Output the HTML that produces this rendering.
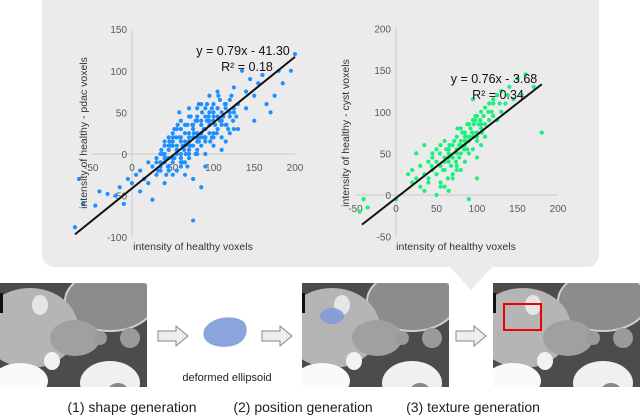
<!DOCTYPE html>
<html><head><meta charset="utf-8"><style>
html,body{margin:0;padding:0;background:#fff;width:640px;height:416px;overflow:hidden}
svg{display:block;font-family:"Liberation Sans",sans-serif}
</style></head><body>
<svg id="fig" width="640" height="416" viewBox="0 0 640 416">
<defs>
<clipPath id="ctclip"><rect x="0" y="0" width="147" height="104"/></clipPath>
<g id="ct" clip-path="url(#ctclip)">
<rect x="0" y="0" width="147" height="104" fill="#4c4c4c"/>
<ellipse cx="110" cy="18" rx="45" ry="30" fill="#8c8c8c" stroke="#cfcfcf" stroke-width="2"/>
<ellipse cx="30" cy="45" rx="48" ry="40" fill="#b5b5b5"/>
<ellipse cx="75" cy="55" rx="25" ry="18" fill="#a0a0a0"/>
<ellipse cx="40" cy="22" rx="8" ry="10" fill="#e6e6e6"/>
<ellipse cx="52" cy="78" rx="8" ry="9" fill="#f2f2f2"/>
<ellipse cx="130" cy="55" rx="10" ry="10" fill="#9a9a9a"/>
<ellipse cx="100" cy="55" rx="7" ry="7" fill="#9a9a9a"/>
<ellipse cx="20" cy="98" rx="28" ry="18" fill="#fafafa"/>
<ellipse cx="110" cy="100" rx="30" ry="22" fill="#f0f0f0"/>
<ellipse cx="118" cy="108" rx="10" ry="8" fill="#888"/>
<rect x="0" y="10" width="3" height="20" fill="#111"/>
</g>
</defs>

<g>
<rect x="42" y="-12" width="557" height="279" rx="12" fill="#ebebeb"/>
<polygon points="449,266 493,266 471,290" fill="#ebebeb"/>
</g>
<g id="chartL"></g>
<g id="chartR"></g>

<g transform="translate(0,283)"><use href="#ct"/></g>
<g transform="translate(302,283)"><use href="#ct"/>
<ellipse cx="30" cy="33" rx="12" ry="8" fill="#7f9bd8" opacity="0.9"/></g>
<g transform="translate(493,283)"><use href="#ct"/>
<rect x="11" y="21" width="37" height="26" fill="none" stroke="#e00" stroke-width="2"/></g>

<g><polygon points="158,331 176,331 176,326 188,336 176,346 176,341 158,341" fill="#eee" stroke="#888"/></g>
<g><polygon points="262,331 280,331 280,326 292,336 280,346 280,341 262,341" fill="#eee" stroke="#888"/></g>
<g><polygon points="456,331 474,331 474,326 486,336 474,346 474,341 456,341" fill="#eee" stroke="#888"/></g>
<path d="M204,330 C210,316 235,314 244,322 C250,330 246,343 232,346 C218,349 200,344 204,330Z" fill="#8aa4dc"/>
<text x="227" y="381" font-size="11" text-anchor="middle" fill="#222">deformed ellipsoid</text>
<text x="132" y="412" font-size="14" text-anchor="middle" fill="#222">(1) shape generation</text>
<text x="303" y="412" font-size="14" text-anchor="middle" fill="#222">(2) position generation</text>
<text x="473" y="412" font-size="14" text-anchor="middle" fill="#222">(3) texture generation</text>
</svg>
<script>
const pdacX=[-70,-65,-60,-45,-40,-30,-20,-15,-10,-5,0,5,10,10,15,20,20,25,25,30,30,35,35,40,40,40,45,45,45,50,50,50,55,55,55,60,60,60,60,65,65,65,70,70,70,70,75,75,75,80,80,80,80,85,85,85,90,90,90,90,95,95,95,100,100,100,105,105,110,110,110,115,115,120,120,125,125,130,130,135,140,140,145,150,150,155,160,165,170,175,180,185,195,200,60,75,90,105,85,70,40,45,50,55,60,65,70,75,80,85,90,95,100,105,110,50,60,70,80,90,100,110,65,75,85,95,105,55,45,35,120,125,115,100,90,80,70,60,50,40,
30,35,40,45,50,55,60,65,70,75,80,85,90,95,100,105,110,115,120,125,32,38,42,48,52,58,62,68,72,78,82,88,92,98,102,108,112,118,122,128,36,44,54,64,74,84,94,104,114,124,46,56,66,76,86,96,106,116,58,68,78,88,98,108,62,72,82,92,52,42];
const pdacY=[-88,-30,-60,-62,-45,-48,-50,-40,-60,-30,-35,-25,-45,-20,-30,-10,-35,-15,-55,-5,-25,0,-20,10,-10,-35,5,20,-15,15,-5,25,10,-20,30,20,0,-10,40,15,35,-25,25,5,45,-5,30,10,-30,20,40,0,55,35,10,60,30,45,15,-15,50,25,70,40,10,60,30,75,50,20,5,55,35,65,25,50,80,60,30,100,75,55,90,70,40,85,95,60,50,70,100,85,100,120,-5,-80,20,45,-40,55,-5,10,-10,5,-15,10,0,20,5,25,20,35,25,45,35,-25,-5,10,15,0,50,40,-10,35,25,40,55,0,-20,-10,45,30,15,20,55,45,15,30,20,15,
-10,-15,0,-5,10,5,15,25,20,30,25,40,30,50,45,55,40,60,50,55,-20,0,-25,10,-5,20,-10,35,10,40,15,30,60,20,35,65,45,30,70,45,5,-15,20,5,35,20,45,25,60,40,15,35,0,25,50,15,70,35,50,-15,0,20,55,40,10,45,60,40,30,-5];
const cystX=[-45,-40,-35,0,15,20,20,25,25,30,30,35,35,40,40,45,45,50,50,50,55,55,55,60,60,60,65,65,65,70,70,70,75,75,75,80,80,80,85,85,85,90,90,90,95,95,95,100,100,100,105,105,105,110,110,115,115,120,120,125,125,130,130,135,140,145,150,155,160,170,180,60,75,90,100,110,50,40,80,95,45,65,85,105,120,70,55,35,90,100,
60,65,70,75,80,85,90,95,100,105,62,68,72,78,82,88,92,98,102,108,64,74,84,94,104,114,44,54,66,76,86,96,106,118,128,138,58,78,88,98];
const cystY=[-20,-5,-15,-5,25,15,30,20,50,10,35,25,60,20,40,30,50,25,55,40,35,60,15,45,30,65,40,55,5,60,45,25,70,50,30,65,50,80,75,60,40,85,65,50,90,70,55,95,75,65,100,80,60,105,85,110,90,115,95,120,90,125,100,110,130,115,140,120,145,130,75,10,35,-5,20,70,0,15,30,115,45,45,70,80,110,20,10,5,85,45,
40,50,45,55,60,65,70,75,70,85,55,35,65,60,75,55,80,90,85,95,20,40,55,75,90,100,35,50,60,80,70,85,75,100,110,120,30,45,85,95];
const pdacXTicks=[-50,0,50,100,150,200];
const pdacYTicks=[-100,-50,0,50,100,150];
const cystXTicks=[-50,0,50,100,150,200];
const cystYTicks=[-50,0,50,100,150,200];
const pdacFit=[0.79,-41.30];
const cystFit=[0.76,-3.68];
const NS='http://www.w3.org/2000/svg';
function mk(parent,tag,attrs,txt){const e=document.createElementNS(NS,tag);for(const k in attrs)e.setAttribute(k,attrs[k]);if(txt!==undefined)e.textContent=txt;parent.appendChild(e);return e;}
function drawChart(g,cfg){
  const xs=v=>cfg.x0+v*cfg.kx, ys=v=>cfg.y0-v*cfg.ky;
  const yT=cfg.yTicks, xT=cfg.xTicks;
  const ax=mk(g,'line',{x1:xs(0),x2:xs(0),y1:ys(yT[yT.length-1]),y2:ys(yT[0]),stroke:'#c8c8c8'});
  
  
  const bx=mk(g,'line',{x1:xs(xT[0]),x2:xs(xT[xT.length-1]),y1:ys(0),y2:ys(0),stroke:'#c8c8c8'});
  
  
  yT.forEach(v=>{const t=mk(g,'text',{x:xs(0)-5,y:ys(v)+4,'font-size':10,'text-anchor':'end',fill:'#595959'},v);
    
    });
  xT.forEach(v=>{const t=mk(g,'text',{x:xs(v),y:ys(0)+17,'font-size':10,'text-anchor':'middle',fill:'#595959'},v);
    
    });
  cfg.px.forEach((xv,i)=>{const c=mk(g,'circle',{cx:xs(xv),cy:ys(cfg.py[i]),r:2.1,fill:cfg.color});
    
    });
  const l=mk(g,'line',{x1:xs(cfg.lx[0]),y1:ys(cfg.fit[0]*cfg.lx[0]+cfg.fit[1]),x2:xs(cfg.lx[1]),y2:ys(cfg.fit[0]*cfg.lx[1]+cfg.fit[1]),stroke:'#111','stroke-width':2});
  
  
  const e1=mk(g,'text',{x:cfg.eq[0],y:cfg.eq[1],'font-size':12.5,'text-anchor':'middle',fill:'#111'},cfg.eqText);
  
  
  const e2=mk(g,'text',{x:cfg.eq[0]+4,y:cfg.eq[1]+16,'font-size':12.5,'text-anchor':'middle',fill:'#111'},cfg.r2Text);
  
  
  const yt=mk(g,'text',{x:cfg.yt[0],y:cfg.yt[1],'font-size':10.5,'text-anchor':'middle',fill:'#333',transform:`rotate(-90 ${cfg.yt[0]} ${cfg.yt[1]})`},cfg.yTitle);
  
  
  const xt=mk(g,'text',{x:cfg.xt[0],y:cfg.xt[1],'font-size':10.5,'text-anchor':'middle',fill:'#333'},'intensity of healthy voxels');
  
  
}
drawChart(document.getElementById('chartL'),{x0:132,kx:0.815,y0:154,ky:0.832,xTicks:pdacXTicks,yTicks:pdacYTicks,px:pdacX,py:pdacY,color:'#1e90ff',fit:pdacFit,lx:[-70,200],eq:[243,55],eqText:'y = 0.79x - 41.30',r2Text:'R² = 0.18',yt:[87,133],yTitle:'intensity of healthy - pdac voxels',xt:[193,250]});
drawChart(document.getElementById('chartR'),{x0:396,kx:0.81,y0:195,ky:0.832,xTicks:cystXTicks,yTicks:cystYTicks,px:cystX,py:cystY,color:'#1cf07c',fit:cystFit,lx:[-42,180],eq:[494,83],eqText:'y = 0.76x - 3.68',r2Text:'R² = 0.34',yt:[349,133],yTitle:'intensity of healthy - cyst voxels',xt:[456,250]});
</script>
</body></html>
